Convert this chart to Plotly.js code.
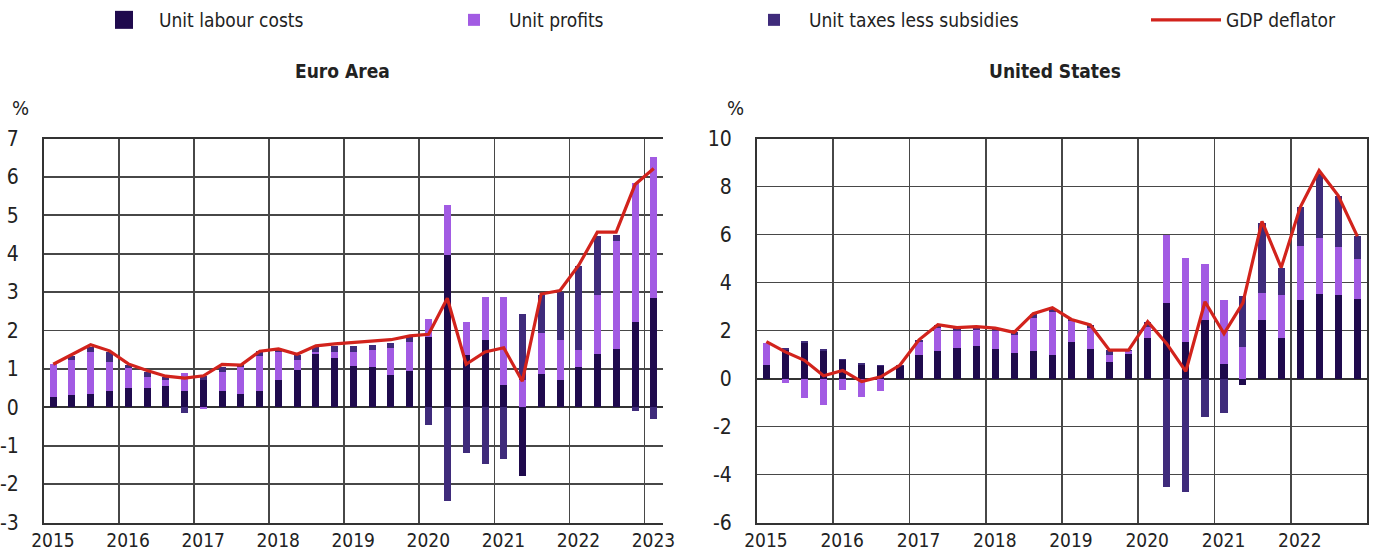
<!DOCTYPE html>
<html>
<head>
<meta charset="utf-8">
<script src="https://cdn.plot.ly/plotly-3.0.1.min.js"></script>
<style>
html,body{margin:0;padding:0;background:#fff;}
#chart{width:1375px;height:554px;}
</style>
</head>
<body>
<div id="chart"></div>
<script>
// ---------- DATA ----------
const euroQuarters = ['2015-01','2015-04','2015-07','2015-10','2016-01','2016-04','2016-07','2016-10',
  '2017-01','2017-04','2017-07','2017-10','2018-01','2018-04','2018-07','2018-10',
  '2019-01','2019-04','2019-07','2019-10','2020-01','2020-04','2020-07','2020-10',
  '2021-01','2021-04','2021-07','2021-10','2022-01','2022-04','2022-07','2022-10','2023-01'];
const usQuarters = ['2015-01','2015-04','2015-07','2015-10','2016-01','2016-04','2016-07','2016-10',
  '2017-01','2017-04','2017-07','2017-10','2018-01','2018-04','2018-07','2018-10',
  '2019-01','2019-04','2019-07','2019-10','2020-01','2020-04','2020-07','2020-10',
  '2021-01','2021-04','2021-07','2021-10','2022-01','2022-04','2022-07','2022-10'];

const euroLabourCosts = [0.28,0.31,0.34,0.42, 0.51,0.50,0.55,0.42, 0.70,0.42,0.35,0.42, 0.70,0.97,1.40,1.28,
  1.07,1.06,0.84,0.95, 1.83,3.97,1.35,1.75, 0.57,-1.79,0.87,0.70, 1.05,1.40,1.53,2.23, 2.84];
const euroProfits = [0.84,0.93,1.09,0.77, 0.51,0.30,0.16,0.48, -0.05,0.51,0.71,0.91, 0.74,0.26,0.05,0.17,
  0.38,0.44,0.70,0.75, 0.48,1.31,0.88,1.11, 2.31,0.70,1.07,1.05, 0.45,1.53,2.79,3.62, 3.67];
const euroTaxes = [0.00,0.10,0.14,0.24, 0.07,0.13,0.07,-0.15, 0.12,0.13,0.04,0.13, 0.07,0.13,0.15,0.14,
  0.15,0.13,0.13,0.13, -0.45,-2.45,-1.18,-1.48, -1.35,1.72,0.99,1.24, 2.17,1.52,0.18,-0.10, -0.31];
const euroDeflator = [1.12,1.38,1.63,1.47, 1.13,0.96,0.81,0.76, 0.82,1.12,1.10,1.46, 1.52,1.38,1.60,1.65,
  1.68,1.71,1.76,1.86, 1.90,2.84,1.12,1.44, 1.55,0.68,2.95,3.04, 3.70,4.56,4.56,5.80, 6.22];

const usLabourCosts = [0.57,1.19,1.50,1.16, 0.76,0.57,0.53,0.54, 0.98,1.16,1.29,1.36, 1.21,1.07,1.14,0.97,
  1.53,1.25,0.70,1.04, 1.67,3.13,1.53,2.45, 0.60,-0.28,2.42,1.68, 3.29,3.54,3.47,3.31];
const usProfits = [0.93,-0.17,-0.81,-1.10, -0.49,-0.77,-0.50,0.00, 0.56,0.95,0.71,0.68, 0.79,0.73,1.40,1.80,
  0.85,0.84,0.27,0.10, 0.49,2.85,3.48,2.31, 2.66,1.33,1.15,1.79, 2.23,2.33,2.01,1.68];
const usTaxes = [0.00,0.09,0.07,0.05, 0.06,0.07,0.04,0.02, 0.07,0.13,0.12,0.12, 0.10,0.12,0.16,0.18,
  0.08,0.14,0.21,0.04, 0.21,-4.52,-4.73,-1.61, -1.43,2.10,2.93,1.15, 1.61,2.66,2.14,0.93];
const usDeflator = [1.54,1.11,0.76,0.11, 0.33,-0.13,0.07,0.56, 1.61,2.24,2.12,2.16, 2.10,1.92,2.70,2.95,
  2.46,2.23,1.18,1.18, 2.37,1.45,0.30,3.20, 1.87,3.15,6.55,4.62, 7.13,8.67,7.62,5.92];

const euroYears = ['2015-01-01','2016-01-01','2017-01-01','2018-01-01','2019-01-01','2020-01-01','2021-01-01','2022-01-01','2023-01-01'];
const euroYearLabels = ['2015','2016','2017','2018','2019','2020','2021','2022','2023'];
const usYears = ['2015-01-01','2016-01-01','2017-01-01','2018-01-01','2019-01-01','2020-01-01','2021-01-01','2022-01-01'];
const usYearLabels = ['2015','2016','2017','2018','2019','2020','2021','2022'];

const euroYTicks = [-3,-2,-1,0,1,2,3,4,5,6,7];
const euroYLabels = ['-3','-2','-1','0','1','2','3','4','5','6','7'];
const usYTicks = [-6,-4,-2,0,2,4,6,8,10];
const usYLabels = ['-6','-4','-2','0','2','4','6','8','10'];

const seriesNames = ['Unit labour costs','Unit profits','Unit taxes less subsidies','GDP deflator'];

// ---------- STYLE ----------
const colLabour = '#1f0a4d';
const colProfits = '#a25be3';
const colTaxes = '#3f2b7b';
const colDeflator = '#d2231c';
const FONT = '"Liberation Sans Narrow", "Arial Narrow", "DejaVu Sans Condensed", Arial, sans-serif';
const barW = 34 * 86400000;
const gridCol = '#474747';

function bar(x, y, name, color, xa, ya, legend, show) {
  return {type:'bar', x:x, y:y, name:name, xaxis:xa, yaxis:ya,
    xperiod:'M3', xperiodalignment:'middle', width:barW,
    marker:{color:color, line:{width:0}}, legend:legend, showlegend:show};
}
function line(x, y, xa, ya, show) {
  return {type:'scatter', mode:'lines', x:x, y:y, name:seriesNames[3], xaxis:xa, yaxis:ya,
    xperiod:'M3', xperiodalignment:'middle',
    line:{color:colDeflator, width:3.2}, legend:'legend4', showlegend:show};
}

const data = [
  bar(euroQuarters, euroLabourCosts, seriesNames[0], colLabour, 'x', 'y', 'legend', true),
  bar(euroQuarters, euroProfits, seriesNames[1], colProfits, 'x', 'y', 'legend2', true),
  bar(euroQuarters, euroTaxes, seriesNames[2], colTaxes, 'x', 'y', 'legend3', true),
  line(euroQuarters, euroDeflator, 'x', 'y', true),
  bar(usQuarters, usLabourCosts, seriesNames[0], colLabour, 'x2', 'y2', 'legend', false),
  bar(usQuarters, usProfits, seriesNames[1], colProfits, 'x2', 'y2', 'legend2', false),
  bar(usQuarters, usTaxes, seriesNames[2], colTaxes, 'x2', 'y2', 'legend3', false),
  line(usQuarters, usDeflator, 'x2', 'y2', false)
];

const W = 1375, H = 554;
const px = v => v / W, py = v => 1 - v / H;
const tickFont = {family:FONT, size:19, color:'#222'};

function xAxis(domain, range, tv, tt, anchor) {
  return {type:'date', domain:domain, range:range, anchor:anchor,
    tickvals:tv, ticktext:tt, ticks:'', ticklabelshift:9, ticklabelstandoff:0,
    showgrid:true, gridcolor:gridCol, gridwidth:1.7,
    showline:true, linecolor:'#333', linewidth:2, mirror:true,
    tickfont:tickFont, fixedrange:true, zeroline:false};
}
function yAxis(range, tv, tt, anchor, mirror) {
  return {range:range, tickvals:tv, ticktext:tt, anchor:anchor, domain:[py(522.5), py(138.5)],
    ticks:'', ticklabelstandoff:19, showgrid:true, gridcolor:gridCol, gridwidth:1.7,
    zeroline:true, zerolinecolor:'#333', zerolinewidth:2,
    showline:true, linecolor:'#333', linewidth:2, mirror:mirror,
    tickfont:{family:FONT, size:21, color:'#222'}, fixedrange:true};
}

function legendAt(xpx, iw) {
  return {orientation:'h', x:px(xpx), xanchor:'left', y:py(20), yanchor:'middle',
    font:{family:FONT, size:19, color:'#222'}, bgcolor:'rgba(0,0,0,0)', borderwidth:0,
    itemwidth:iw, itemclick:false, itemdoubleclick:false};
}

const layout = {
  width:W, height:H, margin:{l:0, r:0, t:0, b:0}, paper_bgcolor:'#fff', plot_bgcolor:'#fff',
  barmode:'relative', bargap:0,
  font:{family:FONT, color:'#222'},
  xaxis: xAxis([px(44), px(663)], ['2015-01-01','2023-04-01'], euroYears, euroYearLabels, 'y'),
  yaxis: yAxis([-3, 7], euroYTicks, euroYLabels, 'x', false),
  xaxis2: xAxis([px(757), px(1367)], ['2015-01-01','2023-01-01'], usYears, usYearLabels, 'y2'),
  yaxis2: yAxis([-6, 10], usYTicks, usYLabels, 'x2', true),
  legend: legendAt(89, 60),
  legend2: legendAt(439, 60),
  legend3: legendAt(739, 60),
  legend4: legendAt(1146, 70),
  annotations: [
    {text:'<b>Euro Area</b>', xref:'paper', yref:'paper', x:px(342), y:py(71), showarrow:false,
      xanchor:'center', yanchor:'middle', font:{family:FONT, size:19, color:'#222'}},
    {text:'<b>United States</b>', xref:'paper', yref:'paper', x:px(1055), y:py(71), showarrow:false,
      xanchor:'center', yanchor:'middle', font:{family:FONT, size:19, color:'#222'}},
    {text:'%', xref:'paper', yref:'paper', x:px(20), y:py(108), showarrow:false,
      xanchor:'center', yanchor:'middle', font:{family:FONT, size:20, color:'#222'}},
    {text:'%', xref:'paper', yref:'paper', x:px(735), y:py(108), showarrow:false,
      xanchor:'center', yanchor:'middle', font:{family:FONT, size:20, color:'#222'}}
  ],
  showlegend:true
};

Plotly.newPlot('chart', data, layout, {displayModeBar:false, staticPlot:true}).then(function(gd){
  // enlarge the bar legend swatches to match the reference's bigger squares
  gd.querySelectorAll('.legend .legendpoints path').forEach(function(p){
    var t = p.getAttribute('transform') || '';
    p.setAttribute('transform', t + ' scale(1.5)');
  });
});
</script>
</body>
</html>
